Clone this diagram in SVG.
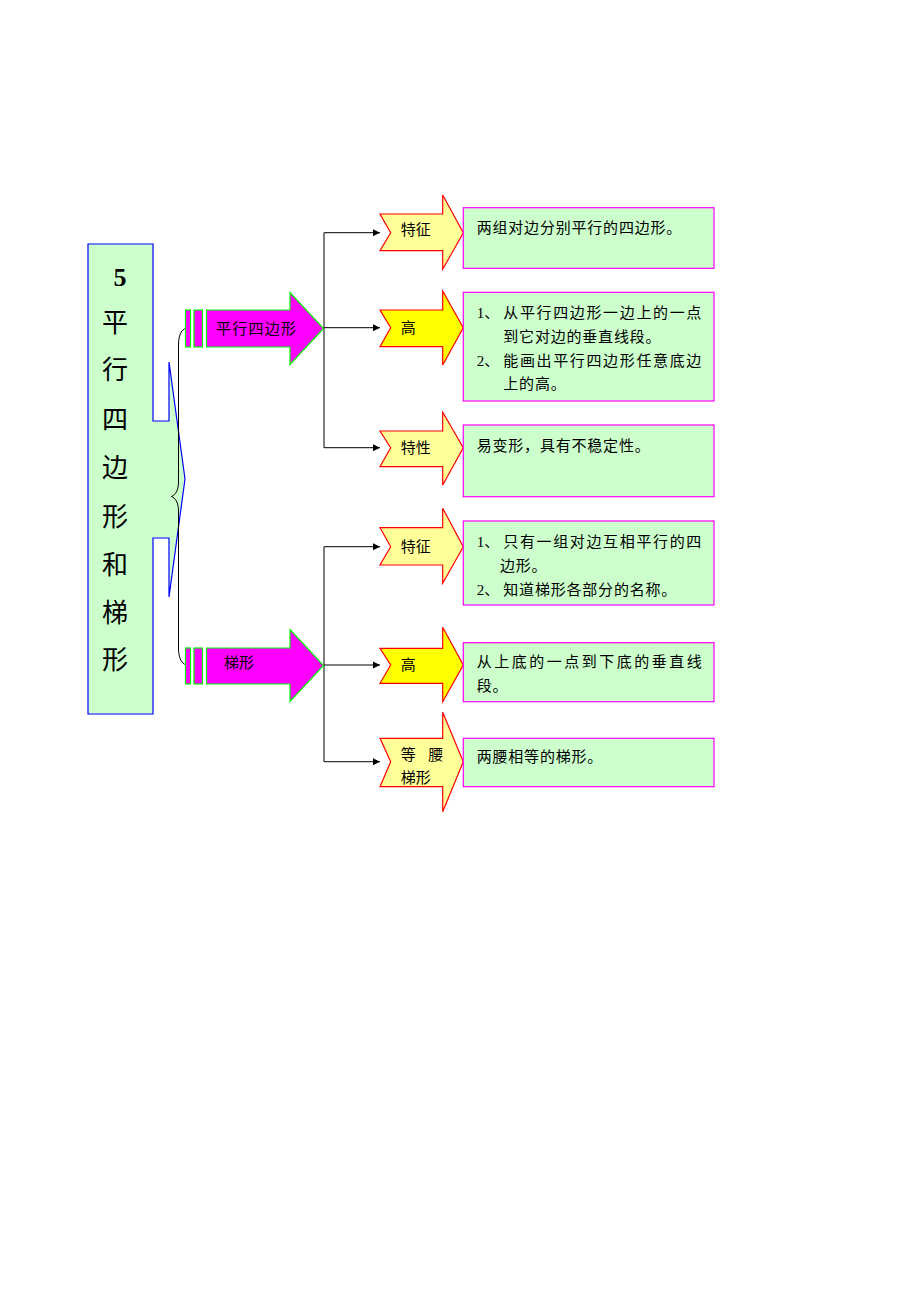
<svg xmlns="http://www.w3.org/2000/svg" width="920" height="1302" viewBox="0 0 920 1302">
<style>
text{font-family:"Liberation Serif","Noto Sans CJK SC",serif;fill:#000}
.t{font-size:15px}
.b{letter-spacing:0.8px}
.big{font-size:26px}
.box{fill:#CCFFCC;stroke:#FF00FF;stroke-width:1.2}
.chev{fill:#FFFF99;stroke:#FF0000;stroke-width:1.2}
.chevY{fill:#FFFF00;stroke:#FF0000;stroke-width:1.2}
.main{fill:#FF00FF;stroke:#00FF00;stroke-width:1.2}
.conn{fill:none;stroke:#000;stroke-width:1}
</style>
<defs>
<marker id="ah" markerWidth="8" markerHeight="8" refX="7" refY="4" orient="auto" markerUnits="userSpaceOnUse">
<path d="M0,0.5 L7,4 L0,7.5 Z" fill="#000"/>
</marker>
</defs>

<g id="title">
<path d="M88,244 L153,244 L153,421 L169,421 L169,362 L185,479 L169,597 L169,538 L153,538 L153,714 L88,714 Z" fill="#CCFFCC" stroke="#0000FF" stroke-width="1.2"/>
<text x="120" y="286" class="big" font-weight="bold" text-anchor="middle">5</text>
<text x="115" y="332" class="big" text-anchor="middle">平</text>
<text x="115" y="379" class="big" text-anchor="middle">行</text>
<text x="115" y="429" class="big" text-anchor="middle">四</text>
<text x="115" y="477" class="big" text-anchor="middle">边</text>
<text x="115" y="526" class="big" text-anchor="middle">形</text>
<text x="115" y="574" class="big" text-anchor="middle">和</text>
<text x="115" y="622" class="big" text-anchor="middle">梯</text>
<text x="115" y="669" class="big" text-anchor="middle">形</text>
</g>

<g id="connectors">
<path class="conn" d="M186,328 C181,330 178.5,336 178.5,345 L178.5,482 C178.5,491 175,495 171.5,496.5 C175,498 178.5,502 178.5,511 L178.5,648 C178.5,657 181,663 186,665"/>
<path class="conn" d="M324,232.7 V447.7"/>
<path class="conn" d="M324,546.7 V761.7"/>
<path class="conn" d="M324,232.7 H380" marker-end="url(#ah)"/>
<path class="conn" d="M323.5,327.7 H380" marker-end="url(#ah)"/>
<path class="conn" d="M324,447.7 H380" marker-end="url(#ah)"/>
<path class="conn" d="M324,546.7 H380" marker-end="url(#ah)"/>
<path class="conn" d="M323.5,665 H380" marker-end="url(#ah)"/>
<path class="conn" d="M324,761.7 H380" marker-end="url(#ah)"/>
</g>

<g id="main-parallelogram">
<rect class="main" x="185.5" y="310" width="5" height="37"/>
<rect class="main" x="194" y="310" width="8.5" height="37"/>
<path class="main" d="M206.5,310 L290,310 L290,292.5 L323.5,328.5 L290,364.5 L290,347 L206.5,347 Z"/>
<text x="216" y="333.5" class="t" textLength="80">平行四边形</text>
</g>

<g id="main-trapezoid">
<rect class="main" x="185.5" y="648" width="5" height="36"/>
<rect class="main" x="194" y="648" width="8.5" height="36"/>
<path class="main" d="M206.5,648 L290,648 L290,629.5 L323.5,665.5 L290,701.5 L290,684 L206.5,684 Z"/>
<text x="224" y="668" class="t">梯形</text>
</g>

<g id="p-feature">
<path class="chev" d="M380,214 L442.7,214 L442.7,195 L463.3,232.7 L442.7,269.3 L442.7,250.7 L380,250.7 L390.7,232.7 Z"/>
<text x="400.7" y="234.5" class="t">特征</text>
<rect class="box" x="463.3" y="207.7" width="250.7" height="60.6"/>
<text x="476.7" y="233" class="t b">两组对边分别平行的四边形。</text>
</g>

<g id="p-height">
<path class="chevY" d="M380,310 L442.7,310 L442.7,291 L463.3,327.7 L442.7,365 L442.7,346.7 L380,346.7 L390.7,327.7 Z"/>
<text x="400.7" y="333" class="t">高</text>
<rect class="box" x="463.3" y="292.3" width="250.7" height="108.7"/>
<text x="476.7" y="318" class="t">1、</text>
<text x="503.3" y="318" class="t" textLength="198">从平行四边形一边上的一点</text>
<text x="503.3" y="342" class="t b">到它对边的垂直线段。</text>
<text x="476.7" y="365.5" class="t">2、</text>
<text x="503.3" y="365.5" class="t" textLength="198">能画出平行四边形任意底边</text>
<text x="503.3" y="389" class="t b">上的高。</text>
</g>

<g id="p-property">
<path class="chev" d="M380,431 L442.7,431 L442.7,412.3 L463.3,447.7 L442.7,485 L442.7,466.7 L380,466.7 L390.7,447.7 Z"/>
<text x="400.7" y="453" class="t">特性</text>
<rect class="box" x="463.3" y="425" width="250.7" height="71.7"/>
<text x="476.7" y="450.5" class="t b">易变形，具有不稳定性。</text>
</g>

<g id="t-feature">
<path class="chev" d="M380,527.7 L442.7,527.7 L442.7,508.3 L463.3,546.7 L442.7,583.3 L442.7,565 L380,565 L390.7,546.7 Z"/>
<text x="400.7" y="552" class="t">特征</text>
<rect class="box" x="463.3" y="521" width="250.7" height="84"/>
<text x="476.7" y="546.5" class="t">1、</text>
<text x="503.3" y="546.5" class="t" textLength="198">只有一组对边互相平行的四</text>
<text x="500" y="570.5" class="t b">边形。</text>
<text x="476.7" y="594.5" class="t">2、</text>
<text x="503.3" y="594.5" class="t b">知道梯形各部分的名称。</text>
</g>

<g id="t-height">
<path class="chevY" d="M380,648.3 L442.7,648.3 L442.7,627.3 L463.3,665 L442.7,701.7 L442.7,683.3 L380,683.3 L390.7,665 Z"/>
<text x="400.7" y="670" class="t">高</text>
<rect class="box" x="463.3" y="642.7" width="250.7" height="59"/>
<text x="476.7" y="667" class="t" textLength="225">从上底的一点到下底的垂直线</text>
<text x="476.7" y="690.5" class="t b">段。</text>
</g>

<g id="t-isosceles">
<path class="chev" d="M380,738.3 L442.7,738.3 L442.7,712.3 L463.3,761.7 L442.7,811.7 L442.7,786.7 L380,786.7 L390.7,761.7 Z"/>
<text x="400.7" y="759.5" class="t">等</text>
<text x="428.3" y="759.5" class="t">腰</text>
<text x="400.7" y="783" class="t">梯形</text>
<rect class="box" x="463.3" y="738.3" width="250.7" height="48.4"/>
<text x="476.7" y="762" class="t b">两腰相等的梯形。</text>
</g>
</svg>
